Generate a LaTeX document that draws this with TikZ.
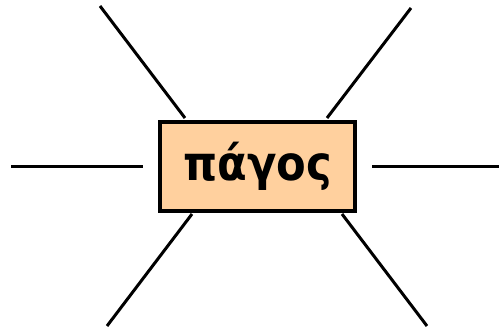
\documentclass[tikz,border=0pt]{standalone}
\usepackage{fontspec}
\setmainfont{DejaVu Sans Condensed}
\usepackage{tikz}
\usetikzlibrary{positioning, calc}
\definecolor{peach}{RGB}{255,208,158}

\begin{document}
\begin{tikzpicture}[x=1pt, y=-1pt, every node/.style={font=\bfseries\fontsize{48}{58}\selectfont}, spoke/.style={line width=3pt}]
            \useasboundingbox (0,0) rectangle (499,331);
            \node[draw, line width=3.5pt, fill=peach, minimum width=195pt, minimum height=89pt, inner sep=0pt] (word) at (257.5,166.5) {πάγος};
            \coordinate (tl1) at (100,6);   \coordinate (tl2) at (185,118);
            \coordinate (tr1) at (411,8);   \coordinate (tr2) at (327,118);
            \coordinate (l1) at (11,167);   \coordinate (l2) at (143,167);
            \coordinate (r1) at (499,167);  \coordinate (r2) at (372,167);
            \coordinate (bl1) at (107,326); \coordinate (bl2) at (192,214);
            \coordinate (br1) at (427,326); \coordinate (br2) at (342,214);
            \draw[spoke] (tl1) -- (tl2);
            \draw[spoke] (tr1) -- (tr2);
            \draw[spoke] (l1) -- (l2);
            \draw[spoke] (r1) -- (r2);
            \draw[spoke] (bl1) -- (bl2);
            \draw[spoke] (br1) -- (br2);
        \end{tikzpicture}
\end{document}
